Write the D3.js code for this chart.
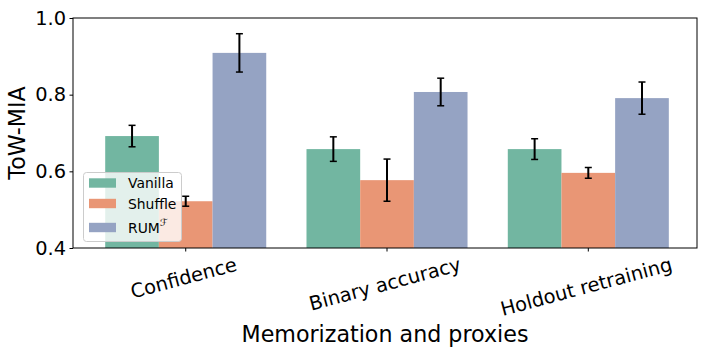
<!DOCTYPE html>
<html><head><meta charset="utf-8">
<script src="https://cdn.jsdelivr.net/npm/d3@7"></script>
<style>body{margin:0;background:#fff}svg{display:block}text{font-family:"DejaVu Sans",sans-serif;fill:#000}</style>
</head><body>
<script>
const categories = ["Confidence", "Binary accuracy", "Holdout retraining"];
const seriesNames = ["Vanilla", "Shuffle", "RUM"];
const vanilla = [0.692, 0.658, 0.658];
const shuffle = [0.522, 0.577, 0.596];
const rum = [0.909, 0.807, 0.791];
const vanillaErr = [0.028, 0.032, 0.027];
const shuffleErr = [0.013, 0.055, 0.014];
const rumErr = [0.050, 0.036, 0.042];
const yTicks = [0.4, 0.6, 0.8, 1.0];
const colors = ["#72b6a1", "#e99675", "#95a3c3"];

const values = [vanilla, shuffle, rum];
const errs = [vanillaErr, shuffleErr, rumErr];

const W = 706, H = 358;
const L = 73, R = 697, T = 18, B = 248;
const svg = d3.select("body").append("svg").attr("width", W).attr("height", H);

const x = d3.scaleLinear().domain([-0.56, 2.54]).range([L, R]);
const y = d3.scaleLinear().domain([0.4, 1.0]).range([B, T]);
const bw = 0.8 / 3;

const g = svg.append("g");
values.forEach((vals, s) => {
  vals.forEach((v, i) => {
    const c = i - 0.4 + bw * s;
    g.append("rect")
      .attr("x", x(c)).attr("width", x(c + bw) - x(c))
      .attr("y", y(v)).attr("height", y(0.4) - y(v))
      .attr("fill", colors[s]);
  });
});
values.forEach((vals, s) => {
  vals.forEach((v, i) => {
    const cx = x(i - 0.4 + bw * s + bw / 2);
    const e = errs[s][i];
    const eg = g.append("g").attr("stroke", "#000").attr("stroke-width", 2);
    eg.append("line").attr("x1", cx).attr("x2", cx).attr("y1", y(v - e)).attr("y2", y(v + e));
    [v - e, v + e].forEach(t => eg.append("line").attr("x1", cx - 3.5).attr("x2", cx + 3.5).attr("y1", y(t)).attr("y2", y(t)).attr("stroke-width", 1.5));
  });
});

// axes frame
svg.append("rect").attr("x", L).attr("y", T).attr("width", R - L).attr("height", B - T)
  .attr("fill", "none").attr("stroke", "#000").attr("stroke-width", 1);

// y axis
const yAxis = d3.axisLeft(y).tickValues(yTicks).tickFormat(d3.format(".1f")).tickSize(3.5).tickPadding(3.5);
const ya = svg.append("g").attr("transform", `translate(${L},0)`).call(yAxis);
ya.select(".domain").remove();
ya.selectAll("text").attr("font-size", 19.4).attr("font-family", "DejaVu Sans").attr("fill", "#000");
ya.selectAll("line").attr("stroke", "#000");

// x axis
const fsx = 19.4;
const sin15 = Math.sin(15 * Math.PI / 180), cos15 = Math.cos(15 * Math.PI / 180);
const xa = svg.append("g").attr("transform", `translate(0,${B})`);
categories.forEach((c, i) => {
  xa.append("line").attr("x1", x(i)).attr("x2", x(i)).attr("y1", 0).attr("y2", 3.5).attr("stroke", "#000");
  const t = xa.append("text").attr("text-anchor", "middle").attr("dominant-baseline", "central")
    .attr("font-size", fsx).text(c);
  const w = t.node().getComputedTextLength();
  const cy = 9 + (w * sin15 + 0.75 * fsx * cos15) / 2;
  t.attr("transform", `translate(${x(i) - 2},${cy}) rotate(-15)`);
});

svg.append("text").attr("x", (L + R) / 2).attr("y", 342).attr("text-anchor", "middle")
  .attr("font-size", 22.2).text("Memorization and proxies");
svg.append("text").attr("transform", `translate(17,${(T + B) / 2}) rotate(-90)`).attr("text-anchor", "middle")
  .attr("dominant-baseline", "central").attr("font-size", 22.2).text("ToW-MIA");

// legend
const lg = svg.append("g");
lg.append("rect").attr("x", 83.5).attr("y", 172.5).attr("width", 98).attr("height", 69).attr("rx", 3)
  .attr("fill", "#fff").attr("fill-opacity", 0.8).attr("stroke", "#ccc").attr("stroke-width", 1);
const ly = [183, 203.5, 227.5];
seriesNames.forEach((n, s) => {
  lg.append("rect").attr("x", 89).attr("y", ly[s] - 4.7).attr("width", 27).attr("height", 9.4).attr("fill", colors[s]);
  const t = lg.append("text").attr("x", 128).attr("y", ly[s]).attr("dominant-baseline", "central").attr("font-size", 13.9).text(n);
  if (s === 2) t.append("tspan").attr("font-size", 10).attr("dy", -6).attr("font-style", "italic").text("ℱ");
});
</script>
</body></html>
